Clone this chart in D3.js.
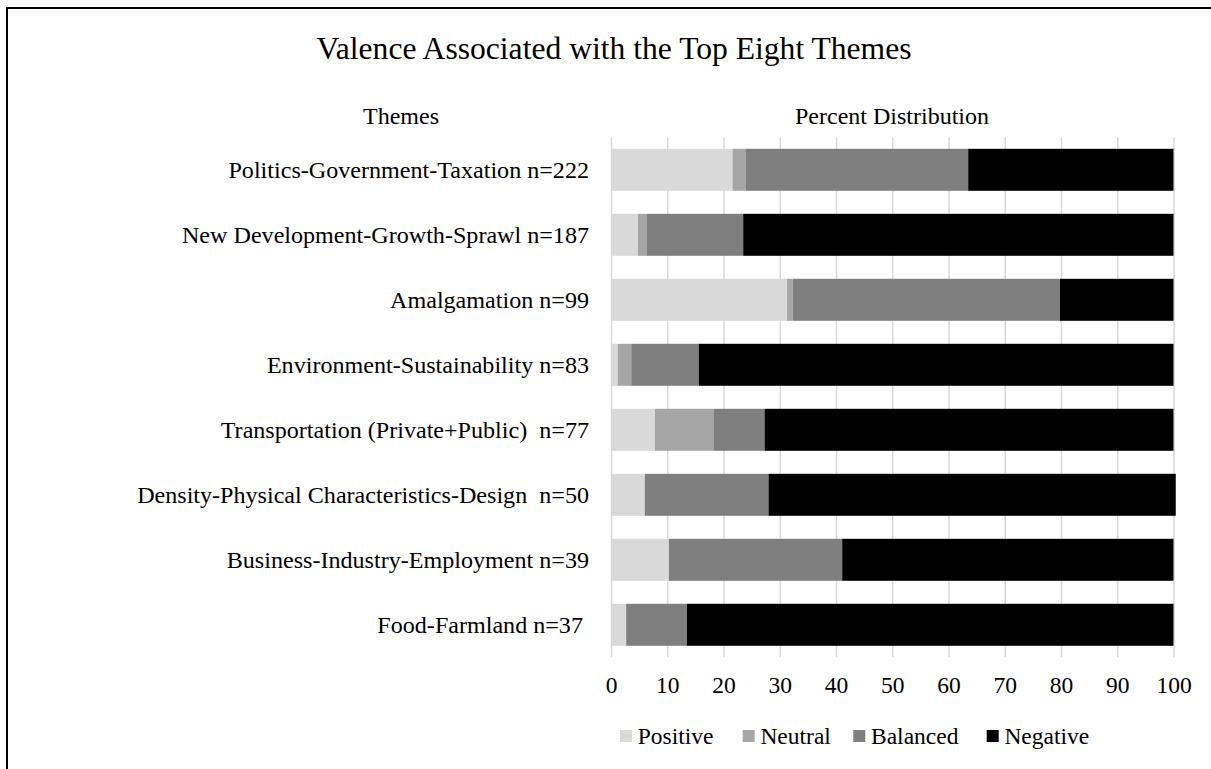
<!DOCTYPE html>
<html>
<head>
<meta charset="utf-8">
<script src="https://cdn.jsdelivr.net/npm/d3@7"></script>
<style>
  html, body { margin: 0; padding: 0; background: #fff; }
  svg { display: block; }
  text { font-family: "Liberation Serif", "Times New Roman", serif; fill: #000; white-space: pre; }
</style>
</head>
<body>
<svg id="chart" width="1211" height="769"></svg>
<script>
// Themes (top to bottom) and the percent share of each valence
const categories = [
  "Politics-Government-Taxation n=222",
  "New Development-Growth-Sprawl n=187",
  "Amalgamation n=99",
  "Environment-Sustainability n=83",
  "Transportation (Private+Public)  n=77",
  "Density-Physical Characteristics-Design  n=50",
  "Business-Industry-Employment n=39",
  "Food-Farmland n=37 "
];
const positive = [21.6, 4.8, 31.3, 1.2, 7.8, 6.0, 10.3, 2.7];
const neutral  = [2.3, 1.6, 1.0, 2.4, 10.4, 0.0, 0.0, 0.0];
const balanced = [39.6, 17.1, 47.5, 12.0, 9.1, 22.0, 30.8, 10.8];
const negative = [36.5, 76.5, 20.2, 84.4, 72.7, 72.4, 58.9, 86.5];

const seriesNames = ["Positive", "Neutral", "Balanced", "Negative"];
const tickValues = [0, 10, 20, 30, 40, 50, 60, 70, 80, 90, 100];
const titleText = "Valence Associated with the Top Eight Themes";
const leftHeader = "Themes";
const rightHeader = "Percent Distribution";

const colors = { Positive: "#d9d9d9", Neutral: "#a6a6a6", Balanced: "#7f7f7f", Negative: "#000000" };

// table for d3.stack
const rows = categories.map((c, i) => ({
  category: c,
  Positive: positive[i], Neutral: neutral[i], Balanced: balanced[i], Negative: negative[i]
}));

const svg = d3.select("#chart");
const FS = 23.5;          // body font size

function label(g, txt, x, y, opts = {}) {
  return g.append("text")
    .attr("x", x).attr("y", y)
    .attr("text-anchor", opts.anchor || "start")
    .style("font-size", (opts.size || FS) + "px")
    .text(txt);
}

// outer frame
svg.append("rect")
  .attr("x", 7).attr("y", 8)
  .attr("width", 1400).attr("height", 1000)
  .attr("fill", "none").attr("stroke", "#000").attr("stroke-width", 2);

const plot = { left: 611, right: 1173.5, top: 137.3, bottom: 657.3 };

const x = d3.scaleLinear().domain([0, 100]).range([plot.left, plot.right]);
const y = d3.scaleBand().domain(categories)
  .range([plot.top, plot.bottom])
  .paddingInner(0.354).paddingOuter(0.177);

// title and headers
label(svg, titleText, 614, 59, { anchor: "middle", size: 31.6 });
label(svg, leftHeader, 401, 124, { anchor: "middle", size: 24 });
label(svg, rightHeader, 892, 124, { anchor: "middle", size: 24 });

// vertical gridlines + tick labels
const axis = d3.axisBottom(x)
  .tickValues(tickValues)
  .tickFormat(d3.format("d"))
  .tickSize(-(plot.bottom - plot.top))
  .tickPadding(0);
const axG = svg.append("g").attr("transform", `translate(0,${plot.bottom})`).call(axis);
axG.select(".domain").remove();
axG.selectAll(".tick line").attr("stroke", "#d9d9d9").attr("stroke-width", 1.5);
axG.selectAll(".tick text").remove();
axG.selectAll(".tick").each(function (d) {
  label(d3.select(this), String(d), 0, 36, { anchor: "middle" });
});

// stacked bars
const stack = d3.stack().keys(seriesNames);
const layers = stack(rows);
svg.append("g").selectAll("g")
  .data(layers)
  .join("g")
  .attr("fill", d => colors[d.key])
  .selectAll("rect")
  .data(d => d)
  .join("rect")
  .attr("x", d => x(d[0]))
  .attr("width", d => x(d[1]) - x(d[0]))
  .attr("y", d => y(d.data.category))
  .attr("height", y.bandwidth());

// category labels
const catG = svg.append("g");
categories.forEach(c => {
  label(catG, c, 589, y(c) + y.bandwidth() / 2 + 8, { anchor: "end", size: 24.1 });
});

// legend: swatch + name, slots laid out left to right
const legG = svg.append("g");
const legSlots = [620, 742.7, 853.3, 986.7];
const legY = 730;
seriesNames.forEach((name, i) => {
  const lx = legSlots[i];
  legG.append("rect").attr("x", lx).attr("y", legY).attr("width", 12).attr("height", 12)
    .attr("fill", colors[name]);
  label(legG, name, lx + 17.7, legY + 14);
});
</script>
</body>
</html>
